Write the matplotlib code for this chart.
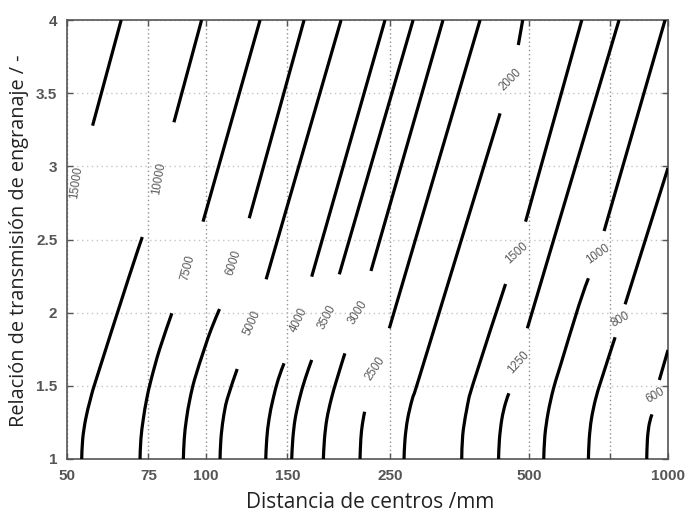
import numpy as np
import matplotlib
matplotlib.use("Agg")
import matplotlib.pyplot as plt
from matplotlib.path import Path
from matplotlib.patches import PathPatch
from matplotlib.ticker import FixedLocator, NullLocator, FixedFormatter

nan = np.nan

# ---- data (centre distance in mm, gear ratio) ----
levels = [15000, 10000, 7500, 6000, 5000, 4000, 3500, 3000, 2500, 2000, 1500, 1250, 1000, 800, 600]

d_15000 = [56.8, 65.5]
i_15000 = [3.278, 4.0]
d_10000 = [53.8, 54.07, 54.88, 56.21, 57.87, 67.87, 72.77, nan, 85.2, 97.8]
i_10000 = [1.0, 1.137, 1.273, 1.410, 1.547, 2.230, 2.517, nan, 3.301, 4.0]
d_7500 = [71.95, 72.27, 73.14, 74.39, 76.11, 79.37, 84.33, nan, 98.5, 130.9]
i_7500 = [1.0, 1.137, 1.273, 1.410, 1.547, 1.752, 1.996, nan, 2.622, 4.0]
d_6000 = [89.30, 89.70, 90.69, 92.28, 94.51, 99.14, 102.66, 106.94, nan, 124.0, 163.0]
i_6000 = [1.0, 1.137, 1.273, 1.410, 1.547, 1.752, 1.889, 2.025, nan, 2.645, 4.0]
d_5000 = [107.21, 107.69, 108.93, 111.13, 116.80, nan, 134.9, 196.0]
i_5000 = [1.0, 1.137, 1.273, 1.410, 1.615, nan, 2.228, 4.0]
d_4000 = [134.66, 135.33, 136.89, 139.65, 143.39, 147.53, nan, 169.3, 244.0]
i_4000 = [1.0, 1.137, 1.273, 1.410, 1.547, 1.654, nan, 2.246, 4.0]
d_3500 = [153.26, 154.10, 155.88, 159.25, 163.84, 169.33, nan, 194.3, 280.7]
i_3500 = [1.0, 1.137, 1.273, 1.410, 1.547, 1.677, nan, 2.262, 4.0]
d_3000 = [179.46, 180.44, 182.61, 186.66, 192.04, 199.75, nan, 227.5, 325.8]
i_3000 = [1.0, 1.137, 1.273, 1.410, 1.547, 1.722, nan, 2.285, 4.0]
d_2500 = [215.43, 216.30, 218.02, 220.43, nan, 249.3, 391.9]
i_2500 = [1.0, 1.137, 1.239, 1.323, nan, 1.893, 4.0]
d_2000 = [268.25, 269.59, 273.10, 279.57, 288.79, 353.76, 432.96, nan, 474.2, 484.7]
i_2000 = [1.0, 1.137, 1.273, 1.410, 1.547, 2.456, 3.362, nan, 3.829, 4.0]
d_1500 = [357.66, 359.45, 366.50, 378.40, 444.99, nan, 491.6, 650.7]
i_1500 = [1.0, 1.164, 1.335, 1.513, 2.196, nan, 2.622, 4.0]
d_1250 = [429.73, 431.67, 436.86, 444.33, 452.37, nan, 496.0, 783.5]
i_1250 = [1.0, 1.137, 1.273, 1.376, 1.449, nan, 1.893, 4.0]
d_1000 = [538.29, 541.25, 549.98, 564.71, 584.66, 641.60, 672.53, nan, 727.2, 985.5]
i_1000 = [1.0, 1.157, 1.314, 1.478, 1.636, 2.052, 2.235, nan, 2.558, 4.0]
d_800 = [672.53, 675.24, 682.68, 697.14, 718.29, 768.29, nan, 807.5, 1000.0]
i_800 = [1.0, 1.137, 1.273, 1.410, 1.547, 1.832, nan, 2.057, 2.989]
d_600 = [899.45, 902.60, 910.74, 923.09, nan, 957.8, 1000.0]
i_600 = [1.0, 1.137, 1.239, 1.305, nan, 1.540, 1.745]

# contour label anchor points (mm, ratio) and their angles
label_d = [52.3, 79.2, 91.5, 114.9, 125.7, 159.0, 182.5, 213.6, 232.2, 456.5, 470.4, 474.2, 704.5, 789.4, 939.8]
label_i = [2.889, 2.920, 2.310, 2.339, 1.927, 1.950, 1.972, 2.003, 1.615, 3.595, 2.406, 1.663, 2.401, 1.950, 1.431]
label_rot = [82, 80, 75, 72, 66, 64, 62, 58, 56, 45, 42, 48, 35, 30, 30]

x_ticks = [50, 75, 100, 150, 250, 500, 750, 1000]
x_ticklabels = ["50", "75", "100", "150", "250", "500", "", "1000"]
y_ticks = [1, 1.5, 2, 2.5, 3, 3.5, 4]
y_ticklabels = ["1", "1.5", "2", "2.5", "3", "3.5", "4"]

curves_d = [d_15000, d_10000, d_7500, d_6000, d_5000, d_4000, d_3500, d_3000,
            d_2500, d_2000, d_1500, d_1250, d_1000, d_800, d_600]
curves_i = [i_15000, i_10000, i_7500, i_6000, i_5000, i_4000, i_3500, i_3000,
            i_2500, i_2000, i_1500, i_1250, i_1000, i_800, i_600]


def smooth_path(dv, iv):
    """Smooth cubic-Bezier path through the read points (Catmull-Rom),
    built in log10(distance) space so it is smooth on the log axis."""
    u = np.log10(np.asarray(dv, float))
    v = np.asarray(iv, float)
    su, sv = 461.9, 146.33
    P = np.column_stack([u * su, v * sv])
    verts, codes = [P[0]], [Path.MOVETO]
    n = len(P)
    for k in range(n - 1):
        p0 = P[k - 1] if k > 0 else P[k]
        p1, p2 = P[k], P[k + 1]
        p3 = P[k + 2] if k + 2 < n else P[k + 1]
        c1 = p1 + (p2 - p0) / 6.0
        c2 = p2 - (p3 - p1) / 6.0
        verts += [c1, c2, p2]
        codes += [Path.CURVE4] * 3
    verts = np.array(verts)
    out = np.column_stack([10 ** (verts[:, 0] / su), verts[:, 1] / sv])
    return Path(out, codes)


# ---- figure ----
fig = plt.figure(figsize=(6.87, 5.14), dpi=100)
ax = fig.add_axes([67 / 687, 1 - 459 / 514, 601 / 687, 439 / 514])
ax.set_xscale("log")
ax.set_xlim(50, 1000)
ax.set_ylim(1, 4)

for dv, iv in zip(curves_d, curves_i):
    dv = np.asarray(dv, float)
    iv = np.asarray(iv, float)
    breaks = np.where(np.isnan(dv))[0]
    starts = np.concatenate([[0], breaks + 1])
    ends = np.concatenate([breaks, [len(dv)]])
    for s, e in zip(starts, ends):
        patch = PathPatch(smooth_path(dv[s:e], iv[s:e]), fill=False,
                          edgecolor="black", lw=2.3, capstyle="butt", zorder=3)
        ax.add_patch(patch)

for lv, xd, yi, rot in zip(levels, label_d, label_i, label_rot):
    ax.text(xd, yi, str(lv), rotation=rot, ha="center", va="center",
            rotation_mode="anchor", fontsize=8.3, color="#5a5a5a",
            family="Liberation Sans", zorder=4)

ax.xaxis.set_major_locator(FixedLocator(x_ticks))
ax.xaxis.set_major_formatter(FixedFormatter(x_ticklabels))
ax.xaxis.set_minor_locator(NullLocator())
ax.yaxis.set_major_locator(FixedLocator(y_ticks))
ax.yaxis.set_major_formatter(FixedFormatter(y_ticklabels))

ax.xaxis.grid(True, linestyle=(0, (1, 2)), color="#909090", lw=1.0)
ax.yaxis.grid(True, linestyle=(0, (1, 2.5)), color="#c4c4c4", lw=1.0)
ax.set_axisbelow(True)

ax.tick_params(which="both", direction="in", top=True, right=True,
               length=4, width=1, color="#555555", pad=7,
               labelsize=11, labelcolor="#555555")
for lab in ax.get_xticklabels() + ax.get_yticklabels():
    lab.set_family("Liberation Sans")
    lab.set_fontweight("bold")

for sp in ax.spines.values():
    sp.set_color("#555555")
    sp.set_linewidth(1.2)

ax.set_xlabel("Distancia de centros /mm", fontsize=15, family="Open Sans", color="#222222")
ax.xaxis.set_label_coords(0.505, -0.1105)
ax.xaxis.label.set_va("baseline")
ax.set_ylabel("Relación de transmisión de engranaje / -", fontsize=14.3, family="Open Sans", color="#222222")
ax.yaxis.set_label_coords(-0.080, 0.497)
ax.yaxis.label.set_va("center")

fig.savefig("out.png", dpi=100)
